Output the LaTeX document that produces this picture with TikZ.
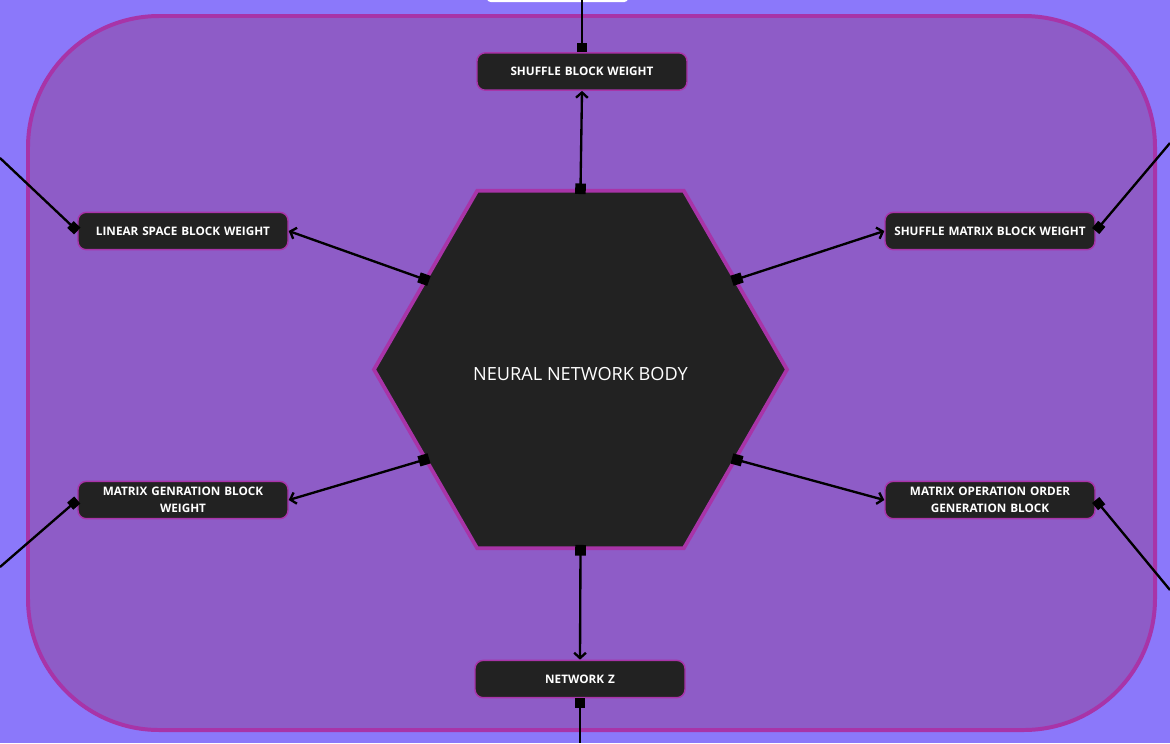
\documentclass[tikz,border=0pt]{standalone}
\usepackage{fontspec}
\setmainfont{Open Sans}
\usetikzlibrary{arrows.meta,shapes.geometric}
\definecolor{bgpurple}{HTML}{8B78FA}
\definecolor{boxpurple}{HTML}{8E5CC7}
\definecolor{edgemagenta}{HTML}{A834A8}
\definecolor{nodedark}{HTML}{222222}

\begin{document}
\begin{tikzpicture}[x=0.03cm, y=-0.03cm,
    block/.style={draw=edgemagenta, line width=1.2pt, fill=nodedark, rounded corners=7pt,
      minimum width=6.3cm, minimum height=1.12cm, text width=6.1cm, align=center,
      text=white, font=\bfseries\fontsize{10}{14.5}\selectfont, inner sep=0pt},
    hexagon/.style={regular polygon, regular polygon sides=6, minimum size=12.39cm,
      draw=edgemagenta, line width=3.2pt, fill=nodedark, inner sep=0pt,
      text=white, font=\fontsize{15.5}{18}\selectfont},
    link/.style={line width=2pt, shorten <=-4.5pt,
      {Square[length=9pt,width=9pt]}-{Straight Barb[length=4.5pt,width=10pt]}},
    outlink/.style={line width=2pt, {Square[length=8pt,width=8pt]}-},
    stublink/.style={line width=2pt, {Square[length=8pt,width=8pt]}-}]
      \useasboundingbox (0,0) rectangle (1170,743);
      \clip (0,0) rectangle (1170,743);
      \fill[bgpurple] (0,0) rectangle (1170,743);
      \fill[white, rounded corners=3pt] (487,-10) rectangle (628,2);
      \draw[edgemagenta, line width=3.4pt, fill=boxpurple, rounded corners=112pt] (28,16) rectangle (1155,730);

      % centre and the six blocks
      \node[hexagon] (body) at (580.5,369.5) {\raisebox{-3.5pt}[\height][0pt]{NEURAL NETWORK BODY}};
      \node[block] (shuffle) at (582,71.5) {SHUFFLE BLOCK WEIGHT};
      \node[block] (linear) at (183,231) {LINEAR SPACE BLOCK WEIGHT};
      \node[block] (matshuffle) at (990,231) {SHUFFLE MATRIX BLOCK WEIGHT};
      \node[block] (matgen) at (183,500) {MATRIX GENRATION BLOCK\\WEIGHT};
      \node[block] (matorder) at (990,500) {MATRIX OPERATION ORDER\\GENERATION BLOCK};
      \node[block] (netz) at (580,679) {NETWORK Z};

      % ends running off the page
      \coordinate (topend) at (582,0);
      \coordinate (tlend) at (0,158);
      \coordinate (trend) at (1170,143);
      \coordinate (blend) at (0,567);
      \coordinate (brend) at (1170,590);
      \coordinate (botend) at (580,743);

      \draw[link] (body.90) -- (shuffle.south);
      \draw[link] (body.150) -- (linear.east);
      \draw[link] (body.30) -- (matshuffle.west);
      \draw[link] (body.210) -- (matgen.east);
      \draw[link] (body.330) -- (matorder.west);
      \draw[link] (body.270) -- (netz.north);

      \draw[stublink] (shuffle.north) -- (topend);
      \draw[outlink] (linear.west) -- (tlend);
      \draw[outlink] (matshuffle.east) -- (trend);
      \draw[outlink] (matgen.west) -- (blend);
      \draw[outlink] (matorder.east) -- (brend);
      \draw[stublink] (netz.south) -- (botend);
\end{tikzpicture}
\end{document}
